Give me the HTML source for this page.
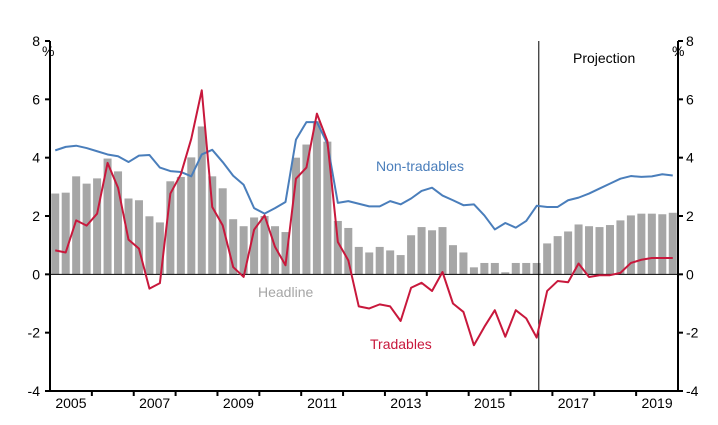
<!DOCTYPE html>
<html><head><meta charset="utf-8"><style>
body{margin:0;background:#fff}
svg{display:block;font-family:"Liberation Sans",Arial,sans-serif}
</style></head><body>
<svg id="chart" width="718" height="425" xmlns="http://www.w3.org/2000/svg"></svg>
<script>
const years=[2005,2006,2007,2008,2009,2010,2011,2012,2013,2014,2015,2016,2017,2018,2019];
const yTicks=[-4,-2,0,2,4,6,8];
const headline=[2.77,2.8,3.36,3.11,3.29,3.97,3.53,2.6,2.54,1.99,1.78,3.19,3.34,4.01,5.07,3.36,2.95,1.89,1.65,1.95,2.0,1.65,1.45,4.0,4.45,5.25,4.55,1.83,1.59,0.94,0.75,0.94,0.82,0.66,1.34,1.62,1.51,1.62,1.0,0.75,0.24,0.39,0.39,0.07,0.39,0.39,0.39,1.06,1.31,1.47,1.71,1.65,1.62,1.69,1.85,2.02,2.08,2.08,2.06,2.11];
const nonTradables=[4.25,4.37,4.41,4.33,4.22,4.11,4.05,3.85,4.07,4.09,3.66,3.54,3.51,3.36,4.11,4.27,3.85,3.38,3.07,2.27,2.08,2.27,2.48,4.62,5.22,5.22,4.48,2.45,2.51,2.42,2.33,2.33,2.51,2.4,2.6,2.86,2.97,2.7,2.54,2.37,2.4,2.02,1.54,1.76,1.6,1.83,2.35,2.31,2.31,2.54,2.63,2.77,2.94,3.11,3.28,3.37,3.34,3.36,3.43,3.39];
const tradables=[0.82,0.75,1.85,1.67,2.08,3.82,2.97,1.19,0.88,-0.49,-0.3,2.77,3.43,4.65,6.31,2.31,1.68,0.25,-0.09,1.53,2.02,0.94,0.31,3.28,3.66,5.51,4.57,1.11,0.48,-1.1,-1.17,-1.03,-1.1,-1.6,-0.46,-0.29,-0.57,0.08,-1.0,-1.29,-2.43,-1.8,-1.23,-2.14,-1.23,-1.51,-2.17,-0.57,-0.23,-0.27,0.37,-0.09,-0.03,-0.03,0.05,0.39,0.5,0.56,0.56,0.56];
const projectionStart=46.2;

const X0=50,X1=678,Y0=41,Y1=391,N=60;
const qw=(X1-X0)/N;
const x=i=>X0+(i+0.5)*qw;
const y=v=>Y1-(v+4)*(Y1-Y0)/12;
const NS="http://www.w3.org/2000/svg";
const svg=document.getElementById('chart');
function mk(tag,attrs,parent){const e=document.createElementNS(NS,tag);for(const k in attrs)e.setAttribute(k,attrs[k]);(parent||svg).appendChild(e);return e;}

const bars=mk('g',{});


headline.forEach((v,i)=>{
  const r=mk('rect',{x:x(i)-4,y:Math.min(y(v),y(0)),width:8,height:Math.abs(y(v)-y(0)),fill:'#a6a6a6'},bars);
  
  
});
const zl=mk('line',{x1:X0,x2:X1,y1:y(0),y2:y(0),stroke:'#000','stroke-width':1});



const pl=mk('line',{x1:x(projectionStart),x2:x(projectionStart),y1:Y0,y2:Y1,stroke:'#000','stroke-width':1});



function line(data,color,name){
  const p=mk('polyline',{points:data.map((v,i)=>x(i)+','+y(v)).join(' '),fill:'none',stroke:color,'stroke-width':2,'stroke-linejoin':'round'});
  
  
}
line(nonTradables,'#4a7ebb','non-tradables-line');
line(tradables,'#c8183c','tradables-line');

const ax=mk('g',{stroke:'#000','stroke-width':2});


mk('line',{x1:X0,x2:X0,y1:Y0,y2:Y1},ax);
mk('line',{x1:X1,x2:X1,y1:Y0,y2:Y1},ax);
mk('line',{x1:X0,x2:X1,y1:Y1,y2:Y1},ax);
yTicks.forEach(t=>{
  mk('line',{x1:X0-5,x2:X0,y1:y(t),y2:y(t)},ax);
  mk('line',{x1:X1,x2:X1+5,y1:y(t),y2:y(t)},ax);
  const l=mk('text',{x:X0-10,y:y(t)+5,'text-anchor':'end','font-size':14,fill:'#000'});
  l.textContent=t;
  
  
  const r=mk('text',{x:X1+8,y:y(t)+5,'font-size':14,fill:'#000'});
  r.textContent=t;
  
  
});
years.forEach((yr,k)=>{
  const bx=X0+k*4*qw;
  if(k>0) mk('line',{x1:bx,x2:bx,y1:Y1,y2:Y1+5},ax);
  if(k%2===0){
    const t=mk('text',{x:bx+2*qw,y:Y1+17,'text-anchor':'middle','font-size':14,fill:'#000'});
    t.textContent=yr;
    
    
  }
});
function label(txt,xx,yy,color,name,anchor){
  const t=mk('text',{x:xx,y:yy,'font-size':14,fill:color,'text-anchor':anchor||'start'});
  t.textContent=txt;
  
  
}
label('%',42,56,'#000','left-unit-label');
label('%',672,56,'#000','right-unit-label');
label('Projection',573,63,'#000','projection-label');
label('Non-tradables',376,171,'#4a7ebb','non-tradables-label');
label('Headline',258,297,'#a6a6a6','headline-label');
label('Tradables',370,349,'#c8183c','tradables-label');
</script>
</body></html>
